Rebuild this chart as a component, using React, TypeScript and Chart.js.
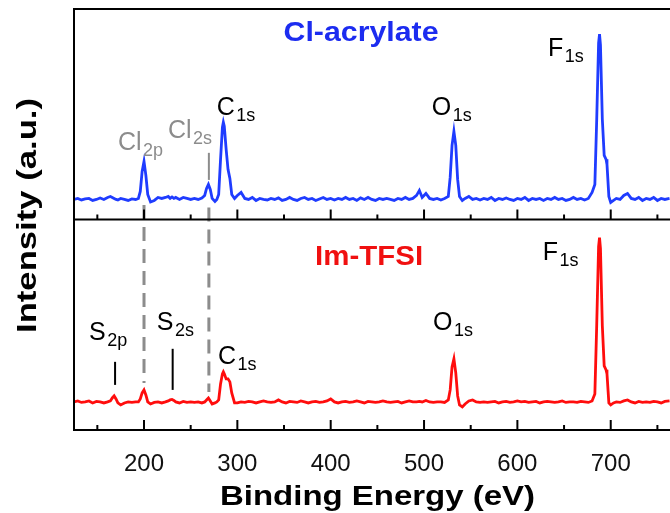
import React, { useEffect, useRef } from 'react';
import { Chart, registerables } from 'chart.js';

Chart.register(...registerables);

// Binding energy grid (eV)
const energy = [
  125, 129, 133, 137, 141, 145, 149, 153, 157, 161,
  164, 166, 168, 170, 172, 175, 179, 183, 187, 191,
  194, 196, 198, 200, 202, 204, 207, 211, 215, 219,
  223, 226, 228, 230, 232, 234, 238, 242, 246, 250,
  254, 258, 262, 265, 267, 269, 271, 273, 276, 278,
  280, 282, 284, 285, 286, 288, 290, 292, 294, 297,
  300, 304, 308, 312, 316, 320, 324, 328, 332, 336,
  340, 344, 348, 352, 356, 360, 364, 368, 372, 376,
  380, 384, 388, 392, 396, 400, 404, 408, 412, 416,
  420, 424, 428, 432, 436, 440, 444, 448, 452, 456,
  460, 464, 468, 472, 476, 480, 484, 488, 492, 495,
  498, 502, 506, 510, 514, 518, 522, 526, 528, 530,
  532, 534, 536, 538, 541, 544, 548, 552, 556, 560,
  564, 568, 572, 576, 580, 584, 588, 592, 596, 600,
  604, 608, 612, 616, 620, 624, 628, 632, 636, 640,
  644, 648, 652, 656, 660, 664, 668, 672, 676, 680,
  683, 685, 687, 688, 689, 691, 693, 695, 696, 698,
  700, 703, 706, 710, 714, 718, 722, 726, 730, 734,
  738, 742, 746, 750, 754, 758, 763,
];

// Cl-acrylate spectrum (top panel, a.u.)
const clAcrylate = [
  20, 21, 19.5, 20.5, 21, 19, 20, 21.5, 20, 22,
  23, 22, 21, 20, 19.5, 21, 20, 19, 20.5, 20,
  21, 28, 48, 58, 44, 25, 17.5, 19, 22, 21,
  22, 23, 21, 22.5, 21, 22, 20, 22, 21, 20,
  21, 20, 21.5, 24, 31, 35, 30, 21, 18, 20,
  25, 60, 92, 97, 93, 70, 50, 41, 25, 21,
  24, 27, 21, 20, 22, 19, 21, 20, 19.5, 21,
  20, 21.5, 19, 20, 22, 20, 19, 21, 22, 20,
  21, 19, 20.5, 22, 20, 21, 19.5, 21, 20, 22,
  20, 21, 19, 21.5, 20, 22, 20, 19, 21, 20,
  21, 20, 19, 21, 20, 22, 20, 21, 24, 29,
  22, 26, 21, 20, 21, 19.5, 21, 23, 42, 74,
  88, 74, 40, 23, 19, 21, 23, 20, 21, 19.5,
  21, 20, 22, 19, 21, 20, 21.5, 20, 19, 21,
  20, 22, 19, 21, 20, 21, 19, 21, 20, 22,
  20, 21, 19, 20, 22, 20, 21, 19.5, 21, 27,
  35, 100, 176, 185, 174, 100, 64, 60, 55, 23,
  17, 19, 21, 20, 24, 26, 21, 20, 22, 19,
  21, 20, 22, 19, 21, 20, 21,
];

// Im-TFSI spectrum (bottom panel, a.u.)
const imTFSI = [
  28, 29, 27.5, 28, 29, 27, 28.5, 28, 27, 28,
  29, 32, 34, 31, 27, 25, 27, 28, 27.5, 28,
  28, 31, 37, 40, 35, 28, 26, 27.5, 28, 27,
  28, 29, 30, 30.5, 29.5, 28, 27, 28.5, 27.5, 28,
  27.5, 28, 27, 28, 30, 32, 29, 26, 27, 28,
  30, 46, 56, 58, 56, 51, 51, 48, 37, 27,
  27, 28, 27.5, 28.5, 28, 27, 28, 29, 28, 27.5,
  28, 30, 28, 27, 28.5, 28, 27.5, 29, 28, 27,
  28, 28.5, 27.5, 28, 29, 31, 28, 27, 28, 28.5,
  27.5, 28, 29, 28, 27, 28.5, 28, 27.5, 28, 29,
  28, 27.5, 28, 28.5, 27, 28, 29, 28, 28, 28.5,
  28, 29.5, 28, 27.5, 28, 28, 27.5, 30, 40, 63,
  71, 57, 34, 25, 23, 26, 29, 30, 28, 27.5,
  28, 27.5, 28, 28.5, 27, 28, 28.5, 27.5, 28, 29,
  28, 28.5, 27.5, 28, 28.5, 27, 28, 28.5, 28, 27.5,
  28, 29, 27.5, 28, 28, 27.5, 28.5, 28, 27.5, 29,
  36, 105, 183, 192, 181, 104, 64, 60, 56, 27,
  25, 27, 28, 27.5, 29, 30, 28, 27, 28.5, 27.5,
  28, 27.5, 28.5, 28, 27, 28.5, 29,
];

const xTicks = [150, 200, 250, 300, 350, 400, 450, 500, 550, 600, 650, 700, 750];
const xMin = 125;
const xMax = 763.5;
const yMax = 210;

const seriesNames = ['Cl-acrylate', 'Im-TFSI'];
const seriesColors = ['#1f3cff', '#ff0d0d'];
const titleColors = ['#1c2cf0', '#f01010'];

// Peak labels anchored in data units (energy, intensity)
const peakLabels = [
  { panel: 'yTop', main: 'Cl', sub: '2p', energy: 172.1, level: 69.5, color: '#8c8c8c' },
  { panel: 'yTop', main: 'Cl', sub: '2s', energy: 225.7, level: 81.5, color: '#8c8c8c' },
  { panel: 'yTop', main: 'C', sub: '1s', energy: 277.9, level: 104.5, color: '#000' },
  { panel: 'yTop', main: 'O', sub: '1s', energy: 508.2, level: 104.5, color: '#000' },
  { panel: 'yTop', main: 'F', sub: '1s', energy: 632.8, level: 162.8, color: '#000' },
  { panel: 'yBottom', main: 'S', sub: '2p', energy: 141.1, level: 90, color: '#000' },
  { panel: 'yBottom', main: 'S', sub: '2s', energy: 213.6, level: 100, color: '#000' },
  { panel: 'yBottom', main: 'C', sub: '1s', energy: 279.3, level: 66, color: '#000' },
  { panel: 'yBottom', main: 'O', sub: '1s', energy: 509.6, level: 100, color: '#000' },
  { panel: 'yBottom', main: 'F', sub: '1s', energy: 627.1, level: 170, color: '#000' },
];

const markers = [
  { panel: 'yTop', energy: 269.5, from: 39.5, to: 66.5, color: '#8c8c8c' },
  { panel: 'yBottom', energy: 169, from: 45, to: 68, color: '#000' },
  { panel: 'yBottom', energy: 230.7, from: 40, to: 81, color: '#000' },
];

const guides = [
  { energy: 200, from: 14.5, to: 47 },
  { energy: 269.5, from: 12, to: 38 },
];

const panelTitles = [
  { panel: 'yTop', text: seriesNames[0], energy: 432.5, level: 178.5, width: 155, color: titleColors[0] },
  { panel: 'yBottom', text: seriesNames[1], energy: 441.1, level: 165, width: 108, color: titleColors[1] },
];

const FONT = '"Liberation Sans", Arial, Helvetica, sans-serif';

function stretched(ctx: CanvasRenderingContext2D, text: string, cx: number, cy: number, font: string, width: number, color: string, rotate = false) {
  ctx.save();
  ctx.translate(cx, cy);
  if (rotate) ctx.rotate(-Math.PI / 2);
  ctx.font = font;
  const w = ctx.measureText(text).width;
  ctx.scale(width / w, 1);
  ctx.fillStyle = color;
  ctx.textAlign = 'center';
  ctx.textBaseline = 'alphabetic';
  ctx.fillText(text, 0, 0);
  ctx.restore();
}

const overlay = {
  id: 'overlay',
  beforeDatasetsDraw(chart: any) {
    const { ctx } = chart;
    const x = chart.scales.x;
    const yT = chart.scales.yTop;
    const yB = chart.scales.yBottom;
    ctx.save();
    ctx.strokeStyle = '#8c8c8c';
    ctx.lineWidth = 3;
    ctx.setLineDash([14, 8]);
    guides.forEach((g) => {
      const px = x.getPixelForValue(g.energy);
      ctx.beginPath();
      ctx.moveTo(px, yT.getPixelForValue(g.from));
      ctx.lineTo(px, yB.getPixelForValue(g.to));
      ctx.stroke();
    });
    ctx.restore();
  },
  afterDraw(chart: any) {
    const { ctx, chartArea } = chart;
    const x = chart.scales.x;
    const yT = chart.scales.yTop;
    const yB = chart.scales.yBottom;
    ctx.save();
    // frame
    ctx.strokeStyle = '#000';
    ctx.lineWidth = 2;
    ctx.setLineDash([]);
    ctx.beginPath();
    ctx.moveTo(chartArea.right, chartArea.top);
    ctx.lineTo(chartArea.left, chartArea.top);
    ctx.lineTo(chartArea.left, chartArea.bottom);
    ctx.lineTo(chartArea.right, chartArea.bottom);
    ctx.moveTo(chartArea.left, yT.bottom);
    ctx.lineTo(chartArea.right, yT.bottom);
    ctx.stroke();
    // inward ticks
    ctx.lineWidth = 2;
    [yT.bottom, yB.bottom].forEach((base: number) => {
      x.ticks.forEach((t: any) => {
        const px = x.getPixelForValue(t.value);
        const len = t.value % 100 === 0 ? 10 : 5;
        ctx.beginPath();
        ctx.moveTo(px, base);
        ctx.lineTo(px, base - len);
        ctx.stroke();
      });
    });
    // markers
    ctx.lineWidth = 2;
    markers.forEach((m) => {
      const s = chart.scales[m.panel];
      const px = x.getPixelForValue(m.energy);
      ctx.strokeStyle = m.color;
      ctx.beginPath();
      ctx.moveTo(px, s.getPixelForValue(m.from));
      ctx.lineTo(px, s.getPixelForValue(m.to));
      ctx.stroke();
    });
    // peak labels
    ctx.textAlign = 'left';
    ctx.textBaseline = 'alphabetic';
    peakLabels.forEach((l) => {
      const s = chart.scales[l.panel];
      const px = x.getPixelForValue(l.energy);
      const py = s.getPixelForValue(l.level);
      ctx.fillStyle = l.color;
      ctx.font = `25px ${FONT}`;
      ctx.fillText(l.main, px, py);
      const w = ctx.measureText(l.main).width;
      ctx.font = `18px ${FONT}`;
      ctx.fillText(l.sub, px + w + 1.5, py + 6);
    });
    // panel titles
    panelTitles.forEach((p) => {
      const s = chart.scales[p.panel];
      stretched(ctx, p.text, x.getPixelForValue(p.energy), s.getPixelForValue(p.level), `bold 28px ${FONT}`, p.width, p.color);
    });
    // axis titles
    stretched(ctx, 'Binding Energy (eV)', 377.5, 505, `bold 28px ${FONT}`, 315, '#000');
    stretched(ctx, 'Intensity (a.u.)', 35.5, 215.5, `bold 28px ${FONT}`, 235, '#000', true);
    ctx.restore();
  },
};

export default function App() {
  const ref = useRef<HTMLCanvasElement>(null);

  useEffect(() => {
    if (!ref.current) return;
    const chart = new Chart(ref.current, {
      type: 'line',
      data: {
        datasets: [
          {
            label: seriesNames[0],
            data: energy.map((e, i) => ({ x: e, y: clAcrylate[i] })),
            yAxisID: 'yTop',
            borderColor: seriesColors[0],
            borderWidth: 2.8,
            pointRadius: 0,
            tension: 0,
          },
          {
            label: seriesNames[1],
            data: energy.map((e, i) => ({ x: e, y: imTFSI[i] })),
            yAxisID: 'yBottom',
            borderColor: seriesColors[1],
            borderWidth: 2.8,
            pointRadius: 0,
            tension: 0,
          },
        ],
      },
      options: {
        responsive: false,
        animation: false,
        events: [],
        layout: { padding: { top: 9, left: 0, right: 0, bottom: 0 } },
        plugins: { legend: { display: false }, tooltip: { enabled: false } },
        scales: {
          x: {
            type: 'linear',
            min: xMin,
            max: xMax,
            afterBuildTicks: (s: any) => {
              s.ticks = xTicks.map((v) => ({ value: v }));
            },
            afterFit: (s: any) => {
              s.height = 83;
            },
            ticks: {
              callback: (v: any) => (Number(v) % 100 === 0 ? String(v) : ''),
              font: { family: FONT, size: 24 },
              color: '#111',
              padding: 12,
              maxRotation: 0,
              autoSkip: false,
            },
            grid: { display: false },
            border: { display: false },
          },
          // listed bottom-first: Chart.js stacks later left-axes above earlier ones
          yBottom: {
            type: 'linear',
            position: 'left',
            stack: 'panels',
            stackWeight: 1,
            min: 0,
            max: yMax,
            ticks: { display: false },
            grid: { display: false },
            border: { display: false },
            afterFit: (s: any) => {
              s.width = 74;
            },
          },
          yTop: {
            type: 'linear',
            position: 'left',
            stack: 'panels',
            stackWeight: 1,
            min: 0,
            max: yMax,
            ticks: { display: false },
            grid: { display: false },
            border: { display: false },
            afterFit: (s: any) => {
              s.width = 74;
            },
          },
        },
      } as any,
      plugins: [overlay],
    });
    return () => chart.destroy();
  }, []);

  return (
    <div style={{ position: 'absolute', left: 0, top: 0, width: 670, height: 513, background: '#fff' }}>
      <canvas ref={ref} width={670} height={513} style={{ display: 'block' }} />
    </div>
  );
}
